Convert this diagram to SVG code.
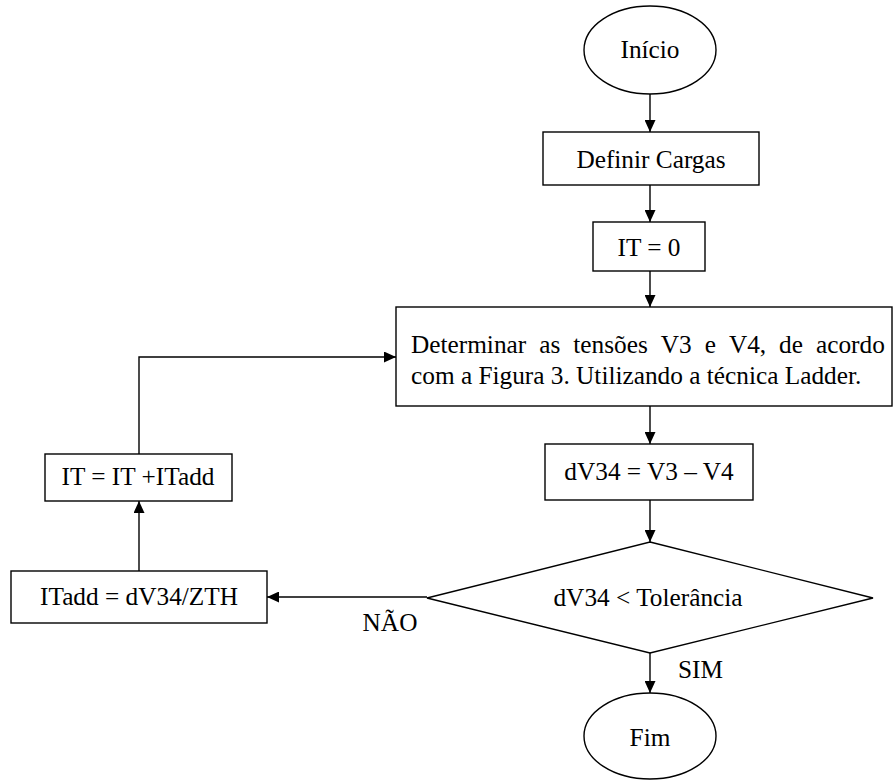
<svg xmlns="http://www.w3.org/2000/svg" width="893" height="780" viewBox="0 0 893 780">
<defs>
<style>
.s{fill:#fff;stroke:#000;stroke-width:1.4}
.c{fill:none;stroke:#000;stroke-width:1.4}
text{font-family:"Liberation Serif","Times New Roman",serif;font-size:25.3px;fill:#000}
.m{text-anchor:middle}
</style>
<marker id="ah" markerUnits="userSpaceOnUse" markerWidth="12" markerHeight="11" refX="12" refY="5.5" orient="auto">
<path d="M0,0 L12,5.5 L0,11 z" fill="#000"/>
</marker>
</defs>
<rect width="893" height="780" fill="#fff"/>
<g id="connectors">
<line class="c" x1="650" y1="94" x2="650" y2="132" marker-end="url(#ah)"/>
<line class="c" x1="650" y1="185" x2="650" y2="222" marker-end="url(#ah)"/>
<line class="c" x1="650" y1="271" x2="650" y2="307" marker-end="url(#ah)"/>
<line class="c" x1="650" y1="406" x2="650" y2="444" marker-end="url(#ah)"/>
<line class="c" x1="650" y1="500" x2="650" y2="542" marker-end="url(#ah)"/>
<line class="c" x1="650" y1="653" x2="650" y2="693" marker-end="url(#ah)"/>
<line class="c" x1="427" y1="597" x2="267" y2="597" marker-end="url(#ah)"/>
<line class="c" x1="139" y1="571" x2="139" y2="501" marker-end="url(#ah)"/>
<polyline class="c" points="139,454 139,357 396,357" marker-end="url(#ah)"/>
<text class="m" x="390" y="631">NÃO</text>
<text x="678" y="678">SIM</text>
</g>
<g id="inicio">
<ellipse class="s" cx="650" cy="50" rx="66" ry="44"/>
<text class="m" x="650" y="58">Início</text>
</g>
<g id="definir">
<rect class="s" x="543" y="132" width="216" height="53"/>
<text class="m" x="651" y="168">Definir Cargas</text>
</g>
<g id="it0">
<rect class="s" x="593" y="222" width="112" height="49"/>
<text class="m" x="649" y="256">IT = 0</text>
</g>
<g id="determinar">
<rect class="s" x="396" y="307" width="496" height="99"/>
<text y="353"><tspan x="411">Determinar</tspan><tspan x="539.2">as</tspan><tspan x="573.3">tensões</tspan><tspan x="660.8">V3</tspan><tspan x="704.7">e</tspan><tspan x="728.9">V4,</tspan><tspan x="779.1">de</tspan><tspan x="816">acordo</tspan></text>
<text x="411" y="384">com a Figura 3. Utilizando a técnica Ladder.</text>
</g>
<g id="dv34">
<rect class="s" x="545" y="444" width="208" height="56"/>
<text class="m" x="649" y="480">dV34 = V3 – V4</text>
</g>
<g id="decisao">
<polygon class="s" points="650,542 873,598 650,653 427,598"/>
<text class="m" x="648" y="606">dV34 &lt; Tolerância</text>
</g>
<g id="fim">
<ellipse class="s" cx="650" cy="736" rx="66" ry="43"/>
<text class="m" x="650" y="746">Fim</text>
</g>
<g id="itadd">
<rect class="s" x="11" y="571" width="256" height="52"/>
<text class="m" x="139" y="605">ITadd = dV34/ZTH</text>
</g>
<g id="itsum">
<rect class="s" x="45" y="454" width="187" height="47"/>
<text class="m" x="138" y="485">IT = IT +ITadd</text>
</g>
</svg>
